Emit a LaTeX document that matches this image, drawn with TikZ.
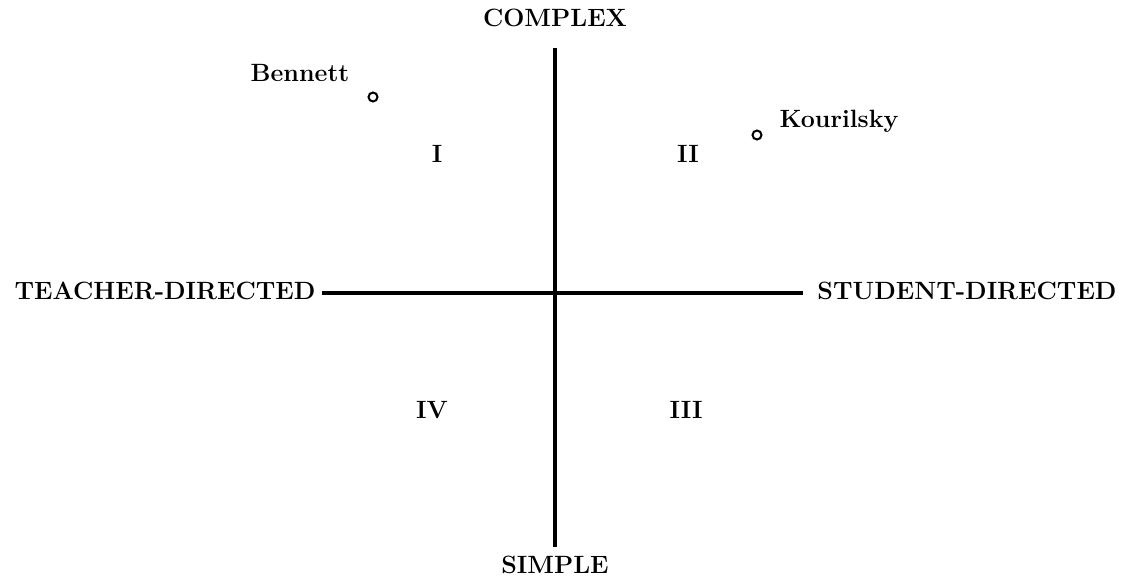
\documentclass[tikz,border=0pt]{standalone}
\usepackage{tikz}
\usetikzlibrary{positioning}

\begin{document}
\begin{tikzpicture}[x=1pt, y=-1pt, semithick,
      lbl/.style={font=\bfseries\fontsize{25}{29}\selectfont, anchor=base, inner sep=0pt},
      axis/.style={line width=3.3pt},
      dot/.style={circle, draw, line width=2pt, inner sep=0pt, minimum size=9pt}]
    \useasboundingbox (0,0) rectangle (1123,583);

    % axis ends
    \coordinate (north) at (555,48);
    \coordinate (south) at (555,547);
    \coordinate (west) at (322,293);
    \coordinate (east) at (803,293);

    \node[lbl] (complex) at (555,27) {COMPLEX};
    \node[lbl] (simple) at (555,573) {SIMPLE};
    \node[lbl] (teacher) at (165,299) {TEACHER-DIRECTED};
    \node[lbl] (student) at (967,299) {STUDENT-DIRECTED};

    \node[lbl] (q1) at (437,162) {I};
    \node[lbl] (q2) at (688,162) {II};
    \node[lbl] (q3) at (686,418) {III};
    \node[lbl] (q4) at (432,418) {IV};

    \node[lbl] (bennett) at (300,82) {Bennett};
    \node[dot] (pb) at (373,97) {};
    \node[lbl] (kourilsky) at (839,128) {Kourilsky};
    \node[dot] (pk) at (757,135) {};

    \draw[axis] (north) -- (south);
    \draw[axis] (west) -- (east);
  \end{tikzpicture}
\end{document}
